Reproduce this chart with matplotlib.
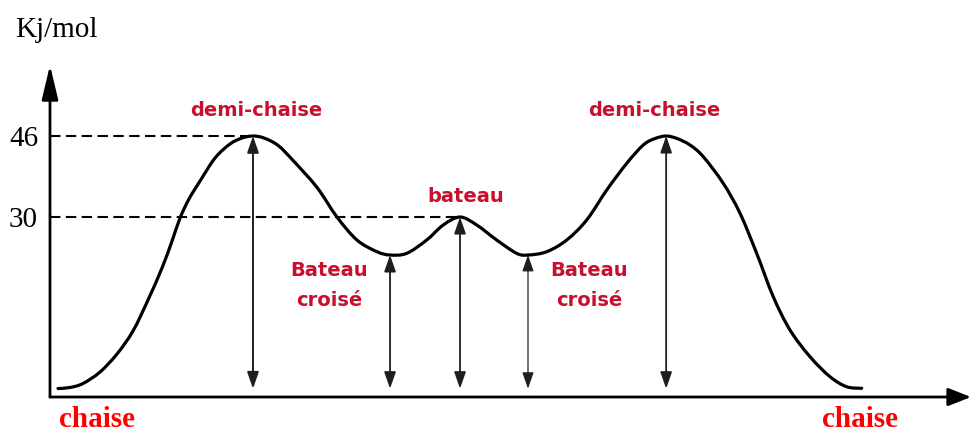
import matplotlib
matplotlib.use("Agg")
import matplotlib.pyplot as plt
from matplotlib.path import Path
from matplotlib.patches import PathPatch, FancyArrowPatch
import numpy as np

# Conformational energy profile of cyclohexane (reaction coordinate vs kJ/mol)
coord = [0.87, 2.17, 3.58, 5.43, 7.27, 9.01, 10.64, 12.16, 13.25, 14.12,
         15.09, 16.29, 17.92, 19.54, 20.85, 22.04, 23.23, 24.76, 26.38, 28.99,
         31.16, 33.33, 35.50, 36.92, 38.73, 40.90, 42.70, 44.52, 46.33, 48.50,
         50.67, 51.90, 53.93, 56.10, 58.27, 60.45, 62.62, 64.42, 65.69, 66.90,
         68.08, 69.49, 70.93, 73.10, 74.92, 76.73, 78.53, 80.35, 82.52, 84.69,
         86.50, 88.13]
energy = [-3.87, -3.67, -2.88, -0.61, 2.94, 7.49, 13.61, 19.93, 25.26, 29.81,
          33.56, 37.11, 41.66, 44.42, 45.61, 46.0, 45.61, 44.15, 41.19, 35.85,
          30.0, 25.46, 23.15, 22.5, 22.83, 25.46, 28.43, 30.0, 28.43, 25.46,
          22.83, 22.5, 23.15, 25.46, 29.41, 35.34, 40.61, 44.23, 45.51, 46.0,
          45.51, 44.23, 41.92, 36.66, 30.74, 22.83, 14.26, 7.68, 2.41, -1.54,
          -3.52, -3.83]

# Vertical energy arrows: position on the coordinate axis and top energy
arrow_coord = [22.04, 36.92, 44.52, 51.90, 66.90]
arrow_top = [46.0, 22.5, 30.0, 22.5, 46.0]
arrow_lw = [1.4, 1.3, 1.3, 0.9, 1.3]
arrow_bottom = -3.9

tick_values = [30, 46]
tick_labels = ["30", "46"]

label_red = "#c8102e"

fig = plt.figure(figsize=(9.71, 4.32), dpi=100)
ax = fig.add_axes([50 / 971, 0, 921 / 971, 1])
ax.set_xlim(0, 100)
ax.set_ylim(-12.46, 72.87)
for s in ax.spines.values():
    s.set_visible(False)
ax.set_xticks([])
ax.set_yticks(tick_values)
ax.set_yticklabels(tick_labels, fontsize=21, family="Liberation Serif")
ax.tick_params(axis="y", length=0, pad=8.6)

# Smooth curve through the points (Catmull-Rom converted to cubic Bezier)
pts = np.column_stack([coord, energy])
verts = [pts[0]]
codes = [Path.MOVETO]
n = len(pts)
for i in range(n - 1):
    p0 = pts[i - 1] if i > 0 else pts[i]
    p1 = pts[i]
    p2 = pts[i + 1]
    p3 = pts[i + 2] if i + 2 < n else pts[i + 1]
    c1 = p1 + (p2 - p0) / 6.0
    c2 = p2 - (p3 - p1) / 6.0
    verts += [c1, c2, p2]
    codes += [Path.CURVE4] * 3
ax.add_patch(PathPatch(Path(verts, codes), fill=False, lw=2.3,
                       edgecolor="black", capstyle="round", joinstyle="round",
                       zorder=3))

# Axes with arrow heads
axis_y0 = -5.55
ax.add_patch(FancyArrowPatch((0, axis_y0), (0, 60.0),
                             arrowstyle="-|>,head_length=21,head_width=5",
                             mutation_scale=1, lw=2.0, color="black",
                             shrinkA=0, shrinkB=0, clip_on=False, zorder=4))
ax.add_patch(FancyArrowPatch((0, axis_y0), (100, axis_y0),
                             arrowstyle="-|>,head_length=14,head_width=5.5",
                             mutation_scale=1, lw=2.0, color="black",
                             shrinkA=0, shrinkB=0, clip_on=False, zorder=4))

# Dashed reference levels
ax.plot([0, arrow_coord[0]], [46, 46], color="black", lw=1.5,
        linestyle=(0, (5, 2.6)), zorder=2)
ax.plot([0, arrow_coord[2]], [30, 30], color="black", lw=1.5,
        linestyle=(0, (5, 2.6)), zorder=2)

# Double-headed energy arrows
for xc, top, lw in zip(arrow_coord, arrow_top, arrow_lw):
    ax.add_patch(FancyArrowPatch((xc, arrow_bottom), (xc, top),
                                 arrowstyle="<|-|>,head_length=10,head_width=3.5",
                                 mutation_scale=1, lw=lw, color="#1e1e1e",
                                 shrinkA=0, shrinkB=0, zorder=2))

# Labels
sans = dict(family="DejaVu Sans", fontweight="bold", fontsize=14,
            color=label_red, ha="center", va="baseline")
ax.text(22.37, 49.9, "demi-chaise", **sans)
ax.text(65.58, 49.9, "demi-chaise", **sans)
ax.text(45.17, 33.0, "bateau", **sans)
for xc in (30.29, 58.52):
    ax.text(xc, 18.35, "Bateau", **sans)
    ax.text(xc, 12.40, "croisé", **sans)

serif_red = dict(family="Liberation Serif", fontweight="bold", fontsize=21,
                 color="#ff0000", ha="center", va="baseline")
ax.text(5.10, -11.48, "chaise", clip_on=False, **serif_red)
ax.text(87.95, -11.48, "chaise", clip_on=False, **serif_red)

ax.text(-3.8, 65.6, "Kj/mol", family="Liberation Serif", fontsize=21,
        ha="left", va="baseline", clip_on=False)

fig.savefig("out.png", dpi=100)
